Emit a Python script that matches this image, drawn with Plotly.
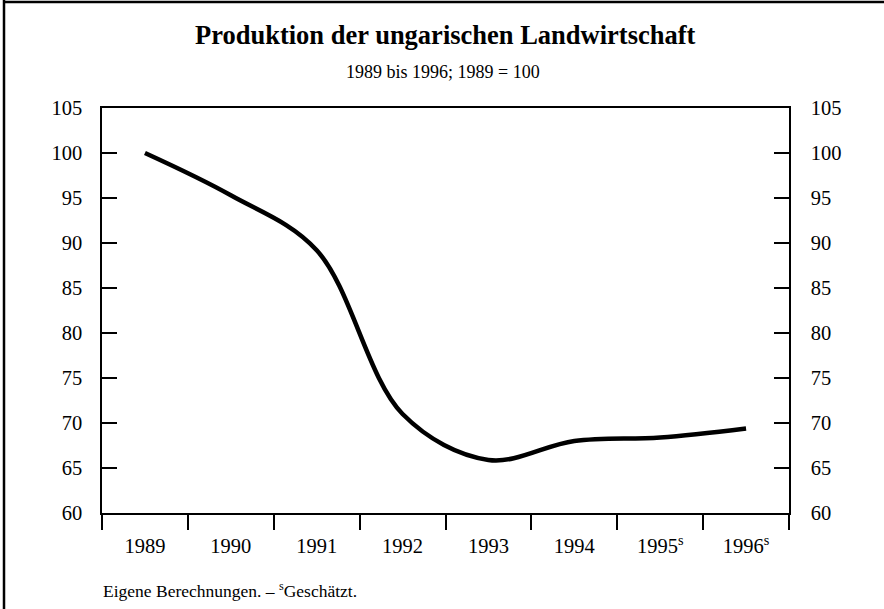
import plotly.graph_objects as go

years = ["1989", "1990", "1991", "1992", "1993", "1994", "1995<sup>s</sup>", "1996<sup>s</sup>"]
production = [100, 95.3, 89.2, 71.0, 65.9, 68.0, 68.4, 69.4]
y_ticks = [60, 65, 70, 75, 80, 85, 90, 95, 100, 105]

title_text = "<b>Produktion der ungarischen Landwirtschaft</b>"
subtitle_text = "1989 bis 1996; 1989 = 100"
footnote_text = "Eigene Berechnungen. – <sup>s</sup>Geschätzt."

FONT = "Liberation Serif, Times New Roman, serif"
W, H = 884, 609
L, R, T, B = 102, 95, 108, 96
PW, PH = W - L - R, H - T - B

def px(x):
    return (x - L) / PW

def py(y):
    return (H - B - y) / PH

fig = go.Figure()
fig.add_trace(go.Scatter(
    x=years, y=production, mode="lines",
    line=dict(color="black", width=4.5, shape="spline", smoothing=1.0),
    showlegend=False, hoverinfo="skip",
))
fig.add_trace(go.Scatter(
    x=years, y=production, yaxis="y2", mode="lines",
    line=dict(color="rgba(0,0,0,0)", width=0),
    showlegend=False, hoverinfo="skip",
))

TICKFONT = dict(family=FONT, size=20.5)

fig.update_layout(
    width=W, height=H,
    margin=dict(l=L, r=R, t=T, b=B),
    paper_bgcolor="white", plot_bgcolor="white",
    font=dict(family=FONT, size=20, color="black"),
    xaxis=dict(
        type="category", range=[-0.5, 7.5],
        showgrid=False, zeroline=False,
        showline=True, linecolor="black", linewidth=1.5, mirror=True,
        ticks="outside", tickson="boundaries", ticklen=15, tickwidth=1.5, tickcolor="black",
        ticklabelstandoff=14,
        tickfont=TICKFONT,
    ),
    yaxis=dict(
        range=[60, 105], tickvals=y_ticks,
        showgrid=False, zeroline=False,
        showline=True, linecolor="black", linewidth=1.5,
        ticks="inside", ticklen=15, tickwidth=1.5, tickcolor="black",
        ticklabelstandoff=14,
        tickfont=TICKFONT,
    ),
    yaxis2=dict(
        range=[60, 105], tickvals=y_ticks, overlaying="y", side="right",
        showgrid=False, zeroline=False,
        showline=True, linecolor="black", linewidth=1.5,
        ticks="inside", ticklen=15, tickwidth=1.5, tickcolor="black",
        ticklabelstandoff=16,
        tickfont=TICKFONT,
    ),
    annotations=[
        dict(text=title_text, x=px(445), y=py(35), xref="paper", yref="paper",
             showarrow=False, xanchor="center", yanchor="middle",
             font=dict(family=FONT, size=26.5)),
        dict(text=subtitle_text, x=px(443), y=py(72), xref="paper", yref="paper",
             showarrow=False, xanchor="center", yanchor="middle",
             font=dict(family=FONT, size=18)),
        dict(text=footnote_text, x=px(101), y=py(590), xref="paper", yref="paper",
             showarrow=False, xanchor="left", yanchor="middle",
             font=dict(family=FONT, size=17.5)),
    ],
    shapes=[
        dict(type="line", xref="paper", yref="paper",
             x0=px(4), x1=px(4), y0=py(0), y1=py(H), line=dict(color="black", width=2.5)),
        dict(type="line", xref="paper", yref="paper",
             x0=px(3), x1=px(W), y0=py(2), y1=py(2), line=dict(color="black", width=2.5)),
    ],
)

fig.write_html(
    "out.html",
    config={"displayModeBar": False},
    post_script="document.body.style.margin='0';document.body.style.overflow='hidden';",
)
